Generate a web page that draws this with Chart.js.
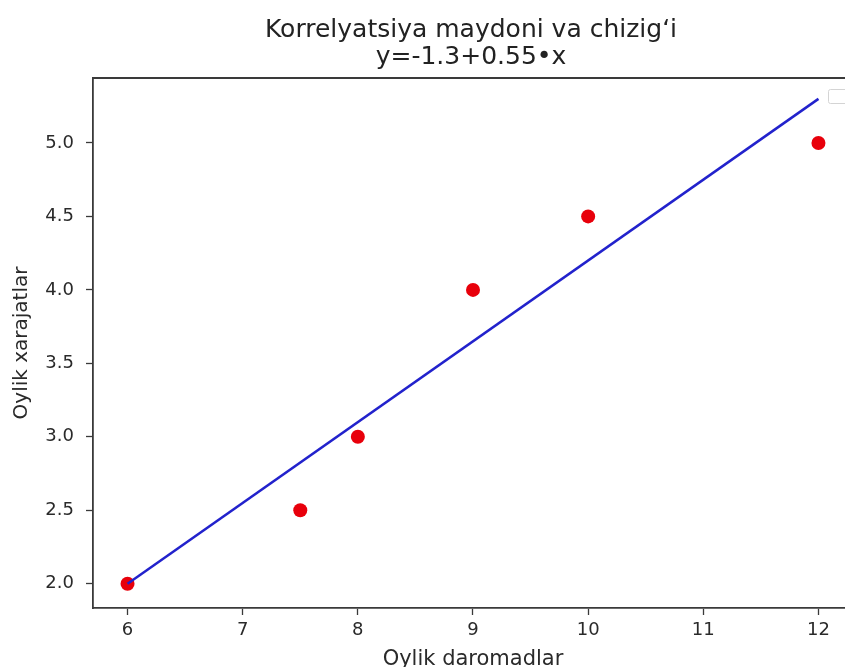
<!DOCTYPE html>
<html>
  <head>
    <title>Korrelyatsiya maydoni</title>
    <script src="https://cdn.jsdelivr.net/npm/chart.js@4.4.0/dist/chart.umd.min.js"></script>
    <style>
      html, body { margin: 0; padding: 0; background: #fff; overflow: hidden; }
      #wrap { width: 860px; height: 680px; }
    </style>
  </head>
  <body>
    <div id="wrap"><canvas id="corrChart" width="860" height="680"></canvas></div>

    <script>
      // Ma'lumotlar
      const daromad = [6, 7.5, 8, 9, 10, 12];       // Oylik daromadlar (x)
      const xarajat = [2.0, 2.5, 3.0, 4.0, 4.5, 5.0]; // Oylik xarajatlar (y)

      // Regressiya chizig'ining uchlari
      const lineX = [6, 12];
      const lineY = [2.0, 5.3];

      const xTicks = [6, 7, 8, 9, 10, 11, 12];
      const yTicks = [2.0, 2.5, 3.0, 3.5, 4.0, 4.5, 5.0];

      const titleLines = ["Korrelyatsiya maydoni va chizig\u2018i", "y=-1.3+0.55\u2022x"];

      const FONT = '"DejaVu Sans", sans-serif';
      const axisColor = "#3a3a3a";

      // Sarlavha, ramka va bo'sh legend qutisi
      const frame = {
        id: "frame",
        afterDraw(chart) {
          const { ctx, chartArea: a } = chart;
          ctx.save();
          ctx.strokeStyle = axisColor;
          ctx.lineWidth = 1.8;
          ctx.beginPath();
          ctx.moveTo(a.left, a.top);
          ctx.lineTo(a.right, a.top);
          ctx.lineTo(a.right, a.bottom);
          ctx.stroke();

          // legend (bo'sh)
          ctx.strokeStyle = "#d4d4d4";
          ctx.lineWidth = 1;
          ctx.beginPath();
          ctx.roundRect(828.5, 89.5, 24, 14, 2);
          ctx.stroke();

          ctx.fillStyle = "#222";
          ctx.font = "25px " + FONT;
          ctx.textAlign = "center";
          ctx.textBaseline = "alphabetic";
          ctx.fillText(titleLines[0], 471, 37);
          ctx.fillText(titleLines[1], 471, 64);
          ctx.restore();
        }
      };

      const ctx = document.getElementById("corrChart").getContext("2d");

      new Chart(ctx, {
        type: "scatter",
        data: {
          datasets: [
            {
              data: lineX.map((x, i) => ({ x: x, y: lineY[i] })),
              showLine: true,
              borderColor: "#2222cc",
              borderWidth: 2.5,
              pointRadius: 0,
              fill: false,
              order: 0
            },
            {
              data: daromad.map((x, i) => ({ x: x, y: xarajat[i] })),
              backgroundColor: "#e8000b",
              borderWidth: 0,
              pointRadius: 7,
              pointHoverRadius: 7,
              order: 1
            }
          ]
        },
        options: {
          responsive: false,
          animation: false,
          layout: { padding: { top: 78, right: 4, left: 0, bottom: 0 } },
          plugins: { legend: { display: false }, tooltip: { enabled: false } },
          scales: {
            x: {
              type: "linear",
              min: 5.7,
              max: 12.3,
              afterBuildTicks: (s) => { s.ticks = xTicks.map(v => ({ value: v })); },
              afterFit: (s) => { s.height = 72; },
              grid: { drawOnChartArea: false, drawTicks: true, tickLength: 7, tickColor: axisColor, tickWidth: 1.3 },
              border: { display: true, color: axisColor, width: 1.8 },
              ticks: { color: "#2a2a2a", font: { family: FONT, size: 18 }, padding: 5, maxRotation: 0 },
              title: { display: true, text: "Oylik daromadlar", color: "#2a2a2a", font: { family: FONT, size: 21 }, padding: { top: 0, bottom: 8 } }
            },
            y: {
              type: "linear",
              min: 1.835,
              max: 5.442,
              afterBuildTicks: (s) => { s.ticks = yTicks.map(v => ({ value: v })); },
              afterFit: (s) => { s.width = 93; },
              grid: { drawOnChartArea: false, drawTicks: true, tickLength: 7, tickColor: axisColor, tickWidth: 1.3 },
              border: { display: true, color: axisColor, width: 1.8 },
              ticks: { color: "#2a2a2a", font: { family: FONT, size: 18 }, padding: 12, callback: (v) => v.toFixed(1) },
              title: { display: true, text: "Oylik xarajatlar", color: "#2a2a2a", font: { family: FONT, size: 20 }, padding: { top: 10, bottom: 0 } }
            }
          }
        },
        plugins: [frame]
      });
    </script>
  </body>
</html>
